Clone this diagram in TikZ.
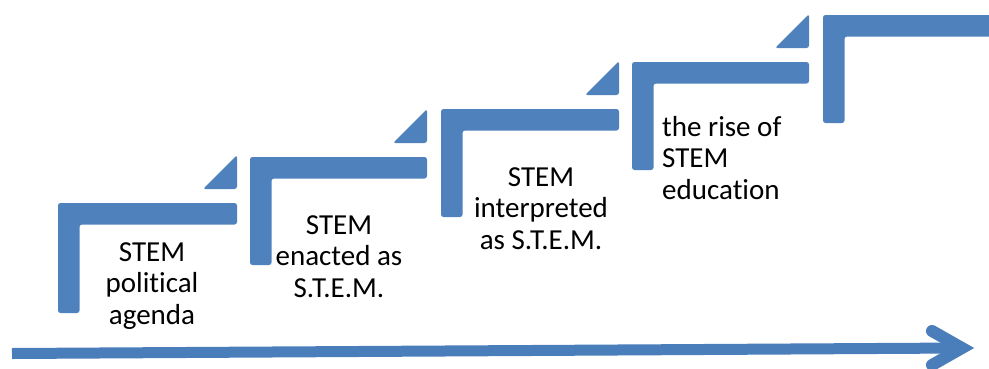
\documentclass[tikz,border=0pt]{standalone}
\usepackage{fontspec}
\setmainfont[RawFeature=-liga]{Carlito}
\usetikzlibrary{calc}
\definecolor{stepblue}{HTML}{4F81BD}
\definecolor{arrowblue}{HTML}{4A7EBB}
\begin{document}
\begin{tikzpicture}[x=1pt,y=-1pt,
  stepshape/.style={fill=stepblue, rounded corners=2.5pt},
  lbl/.style={font=\fontsize{29}{31.5}\selectfont, inner sep=0pt, anchor=base, align=center},
  lbll/.style={lbl, align=left, anchor=base west}]
\useasboundingbox (0,0) rectangle (989,368);
\clip (0,0) rectangle (989,368);
% steps: left/top/right/bottom
\foreach \L/\T/\R/\B in {58/203/237/313, 250/157/427/265, 441/109/619/217, 632/62/809/170, 823/15/1010/123}{
  \path[stepshape] (\L,\T) -- (\R,\T) -- (\R,\T+21.5) -- (\L+21.5,\T+21.5) -- (\L+21.5,\B) -- (\L,\B) -- cycle;
}
% triangles
\foreach \R/\T in {237/203, 427/157, 619/109, 809/62}{
  \path[stepshape] (\R-34,\T-14) -- (\R,\T-14) -- (\R,\T-48) -- cycle;
}
% labels (anchored at the baseline of the last line)
\node[lbl] (t1) at (152,324) {STEM\\political\\agenda};
\node[lbl] (t2) at (339,297) {STEM\\enacted as\\S.T.E.M.};
\node[lbl] (t3) at (541,249) {STEM\\interpreted\\as S.T.E.M.};
\node[lbll] (t4) at (662,199) {the rise of\\STEM\\education};
% timeline arrow
\coordinate (a0) at (12,353.5);
\coordinate (a1) at (962,348);
\draw[arrowblue, line width=11pt] (a0) -- (a1);
\draw[arrowblue, line width=12pt, line cap=round, line join=miter] ($(a1)+(-30,-17)$) -- (a1) -- ($(a1)+(-30,17)$);
\end{tikzpicture}
\end{document}
